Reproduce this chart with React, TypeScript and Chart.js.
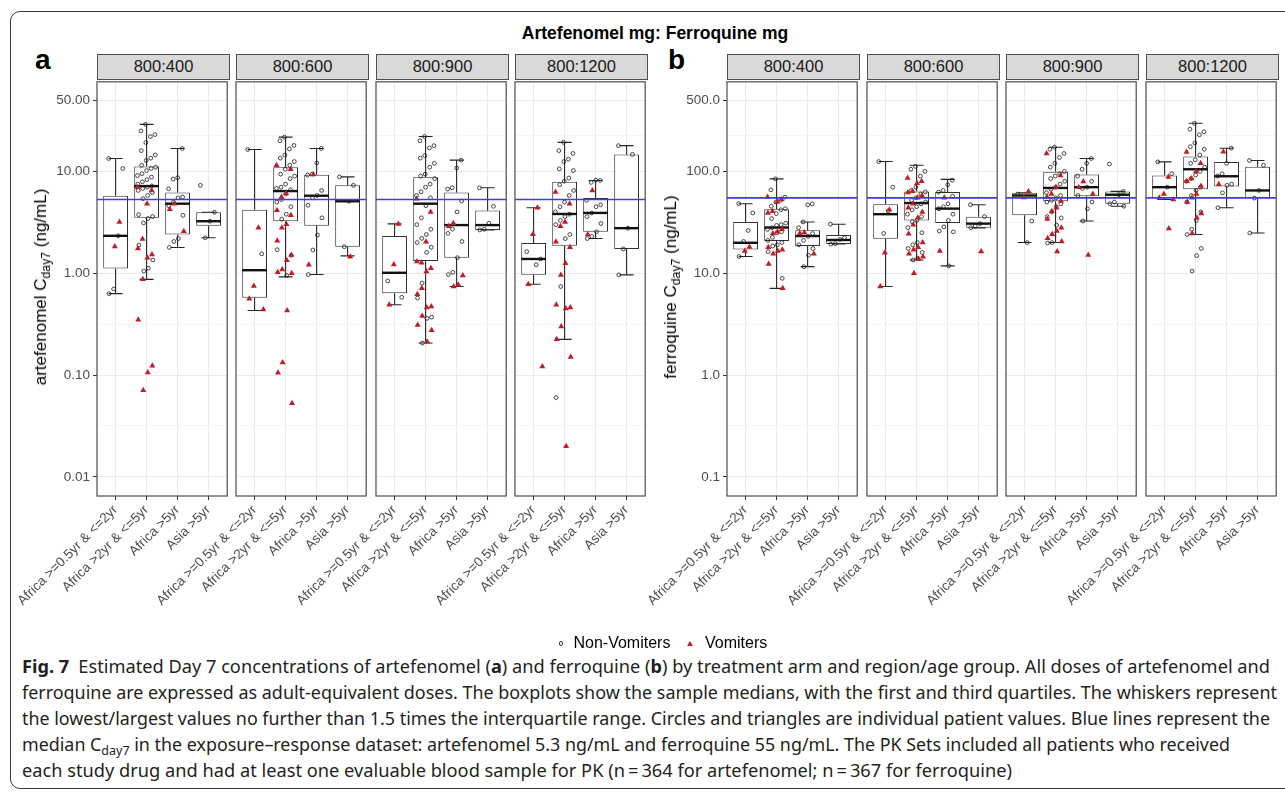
import React, { useEffect, useLayoutEffect, useRef } from "react";
import { Chart, registerables } from "chart.js";

Chart.register(...registerables);

// ---------------- data ----------------
const groups = ["Africa >=0.5yr & <=2yr", "Africa >2yr & <=5yr", "Africa >5yr", "Asia >5yr"];
const arms = ["800:400", "800:600", "800:900", "800:1200"];

const artRefLine = 5.3;
const ferRefLine = 55;

const artMajorTicks = [0.01, 0.1, 1, 10, 50];
const artMinorTicks = [0.0316, 0.316, 3.16, 22.4];
const artRange = [0.00648, 75.9];
const ferMajorTicks = [0.1, 1, 10, 100, 500];
const ferMinorTicks = [0.316, 3.16, 31.6, 224];
const ferRange = [0.0648, 759];

// box stats per group: [lower whisker, Q1, median, Q3, upper whisker]
const artBox400 = [[0.63, 1.11, 2.33, 5.77, 13.4], [0.87, 3.5, 7.17, 11.2, 29], [1.79, 2.4, 4.82, 6.2, 16.8], [2.23, 2.92, 3.24, 3.97, 3.97]];
const artNon400 = [
  [13.4, 10.7, 2.33, 0.7, 0.63],
  [29, 25, 23, 22, 19.2, 16, 14.5, 13.5, 12.8, 11.5, 11, 10.7, 10.2, 9.5, 9.1, 8.8, 8.3, 7.9, 7.5, 7.2, 7.0, 6.8, 6.5, 6.2, 5.8, 5.4, 3.76, 3.6, 3.44, 3.12, 1.89, 1.35, 1.12, 1.05],
  [16.8, 8.67, 8.4, 6.75, 5.6, 5.5, 5.0, 4.6, 3.7, 2.19, 2.05, 1.79],
  [7.3, 3.97, 3.24, 2.23],
];
const artVom400 = [[3.19, 1.83], [7.0, 6.5, 4.8, 2.17, 1.75, 1.53, 1.42, 0.87, 0.35, 0.123, 0.106, 0.071], [4.8, 4.24, 2.59], []];

const artBox600 = [[0.43, 0.575, 1.07, 4.21, 16.4], [0.92, 3.24, 6.41, 11.0, 21.7], [0.97, 2.92, 5.77, 9.25, 16.8], [1.48, 1.82, 5.09, 7.3, 8.84]];
const artNon600 = [
  [16.4, 1.55],
  [21.7, 20, 18, 16.6, 14.5, 13.5, 12.5, 11.5, 10.5, 9.4, 9.0, 8.5, 7.5, 7.0, 6.8, 6.6, 6.0, 5.3, 5.0, 4.5, 3.8, 3.4, 1.7, 1.5, 0.95],
  [16.8, 12.1, 9.4, 9.2, 6.5, 5.8, 5.5, 4.65, 3.5, 2.37, 1.69, 0.97],
  [8.84, 7.3, 5.09, 1.82],
];
const artVom600 = [[2.79, 0.75, 0.56, 0.44], [11.5, 10.5, 6.1, 5.6, 4.16, 3.7, 3.03, 2.8, 2.08, 1.51, 1.34, 1.09, 1.02, 1.0, 0.43, 0.133, 0.105, 0.0527], [9.3, 1.21], [1.45]];

const artBox900 = [[0.49, 0.634, 1.01, 2.32, 3.05], [0.206, 1.32, 4.82, 8.78, 22], [0.74, 1.42, 2.97, 6.2, 12.9], [2.66, 2.66, 2.97, 4.12, 6.9]];
const artNon900 = [
  [0.84, 0.58],
  [22, 20, 17.9, 17, 14.3, 13.5, 12, 11, 9.4, 9.0, 8.5, 7.5, 7.0, 6.3, 5.8, 5.5, 4.6, 3.5, 3.0, 2.7, 2.4, 2.2, 2.0, 1.8, 1.6, 0.8, 0.57, 0.37, 0.36, 0.206],
  [12.9, 10.8, 6.9, 6.7, 5.12, 4.0, 2.71, 2.46, 2.05, 1.42, 1.02, 0.97],
  [6.9, 4.54, 3.1, 2.7, 2.66],
];
const artVom900 = [[3.05, 1.22, 0.49], [5.4, 4.0, 2.04, 1.27, 1.3, 1.12, 1.04, 0.71, 0.62, 0.47, 0.46, 0.38, 0.31, 0.275, 0.212], [3.1, 2.9, 0.95, 0.77, 0.74], []];

const artBox1200 = [[0.78, 0.964, 1.38, 1.98, 4.4], [0.224, 1.86, 3.82, 7.9, 19.3], [2.19, 2.55, 3.91, 5.48, 8.15], [0.964, 1.73, 2.77, 14.7, 17.9]];
const artNon1200 = [
  [1.63, 1.38, 1.21],
  [19.3, 16, 15, 13.2, 12.5, 10.6, 10.2, 8.6, 8.0, 7.4, 6.5, 5.8, 5.0, 4.5, 4.0, 3.8, 3.6, 3.3, 3.0, 2.4, 2.19, 0.74, 0.06],
  [8.15, 8.2, 7.8, 5.2, 4.7, 4.5, 3.9, 3.6, 3.08, 2.55, 2.3, 2.19],
  [17.9, 14.7, 2.77, 1.73, 0.964],
];
const artVom1200 = [[4.4, 2.42, 0.78, 0.121], [6.27, 4.8, 3.19, 2.9, 2.04, 1.8, 1.25, 0.96, 0.49, 0.46, 0.45, 0.3, 0.224, 0.15, 0.02], [6.5, 2.4], []];

const ferBox400 = [[14.6, 17.1, 19.9, 31.9, 48.2], [7.1, 20.7, 28.1, 42.5, 84.5], [11.6, 18.5, 23.2, 26.5, 31.9], [19.4, 19.4, 21.2, 23.7, 30.3]];
const ferNon400 = [
  [48.2, 39, 26.3, 20.5, 14.6],
  [84.5, 65.9, 55.9, 52, 50, 45.5, 43, 42, 38.5, 34.4, 31, 30, 29.5, 28, 27, 25.5, 24.9, 22.5, 21, 20, 19, 18.5, 16.3, 8.9],
  [48, 47, 31.9, 28, 24.5, 23, 21, 19, 17.5, 15, 11.6],
  [30.3, 22.3, 21.5, 19.5, 19.3],
];
const ferVom400 = [[18.1, 16.5], [56, 53, 50, 40.6, 39, 27, 25.5, 24.5, 18, 17, 16.5, 15.5, 12.3, 7.1], [25.1, 24.5, 15.5], []];

const ferBox600 = [[7.4, 21.8, 38.0, 47.6, 125], [13.5, 32.9, 48.9, 63.6, 115], [11.8, 31.2, 43.1, 62.6, 83.6], [27.9, 27.9, 30.7, 35.8, 47.1]];
const ferNon600 = [
  [125, 70, 40.9, 24.6],
  [112, 105, 100, 90, 70, 65, 63, 60, 55, 52, 50, 48, 45, 42, 38, 36, 33, 32, 28, 25, 20, 19, 17.5, 16, 14, 13.5],
  [82, 74, 65, 62.6, 57, 48, 45, 43, 38, 33, 28.5, 26, 25.5, 11.8],
  [47.1, 36, 30.7, 29, 28],
];
const ferVom600 = [[42.1, 15.9, 7.4], [86, 80, 76.5, 64, 62, 58, 55, 48, 44, 40, 35, 30, 24.4, 20, 18, 17, 15.5, 14.5, 13.8, 10], [55.2, 16.5], [16.3]];

const ferBox900 = [[20.0, 37.1, 58, 61.8, 61.8], [20.0, 50.9, 68.8, 99.1, 173], [32.6, 56.9, 70, 93.1, 134], [45.5, 48.2, 59, 63.6, 63.6]];
const ferNon900 = [
  [60, 32.6, 20],
  [173, 165, 150, 137, 120, 110, 100, 95, 90, 85, 80, 75, 70, 67, 62, 58, 55, 52, 50, 48, 45, 40, 36, 34.9, 29.6, 20, 19.8],
  [134, 120, 105, 90, 80, 70, 68, 58, 50.1, 43, 32.6],
  [118, 63.6, 59, 50, 48.2, 45.5],
];
const ferVom900 = [[63.6, 55.5], [150, 91, 70, 60, 56, 51.3, 44, 40.6, 34, 27.9, 26, 24.2, 22, 20.5, 16.3], [79.8, 70, 60, 15.1], []];

const ferBox1200 = [[53, 54.7, 70, 91, 124], [24.0, 66.8, 105, 140, 297], [44, 71, 89.6, 124, 169], [24.8, 54.7, 65, 111, 128]];
const ferNon1200 = [
  [124, 95, 70],
  [297, 260, 245, 229, 190, 175, 165, 145, 130, 120, 110, 100, 92, 85, 80, 70, 65, 58, 50, 40, 33, 27, 24, 17.5, 14.9, 10.5],
  [169, 120, 95, 90, 75, 73, 61.6, 44],
  [128, 115, 65, 54.7, 24.8],
];
const ferVom1200 = [[88, 60, 55, 53, 27.5], [155, 120, 100, 85, 80, 72, 60, 55, 50.1, 38.5, 35, 24.6], [156, 75], []];

// ---------------- layout ----------------
const FONT = "'Liberation Sans', Arial, Helvetica, sans-serif";
const PLOT_TOP = 79;
const PLOT_H = 417;
const PLOT_W = 133;
const X_AXIS_H = 118;
const EXTRA = 105;
const Y_AXIS_W = 46;
const PAD = 2;
const panelALefts = [97, 236, 376, 515];
const panelBLefts = [727, 867, 1006, 1146];
const CAPTION_LEFT = 22;
const captionEnds = [1270, 1277, 1270, 1230, 1012];

const jitter = (i: number, g: number) => {
  const f = (i * 0.754877666 + g * 0.31 + 0.13) % 1;
  return (f - 0.5) * 0.6;
};

type AxisSpec = { majors: number[]; minors: number[]; range: number[]; decimals: number };
const artAxis: AxisSpec = { majors: artMajorTicks, minors: artMinorTicks, range: artRange, decimals: 2 };
const ferAxis: AxisSpec = { majors: ferMajorTicks, minors: ferMinorTicks, range: ferRange, decimals: 1 };

function makeBoxPlugin(boxes: number[][]) {
  return {
    id: "boxWhiskers",
    beforeDatasetsDraw(chart: any) {
      const { ctx } = chart;
      const x = chart.scales.x;
      const y = chart.scales.y;
      ctx.save();
      ctx.strokeStyle = "#262626";
      ctx.lineWidth = 1.1;
      boxes.forEach((b, i) => {
        const cx = x.getPixelForValue(i);
        const half = (x.getPixelForValue(i + 0.45) - x.getPixelForValue(i)) / 2;
        const yLo = y.getPixelForValue(b[0]);
        const yQ1 = y.getPixelForValue(b[1]);
        const yQ3 = y.getPixelForValue(b[3]);
        const yHi = y.getPixelForValue(b[4]);
        ctx.beginPath();
        ctx.moveTo(cx, yLo);
        ctx.lineTo(cx, yQ1);
        ctx.moveTo(cx, yQ3);
        ctx.lineTo(cx, yHi);
        ctx.moveTo(cx - half, yLo);
        ctx.lineTo(cx + half, yLo);
        ctx.moveTo(cx - half, yHi);
        ctx.lineTo(cx + half, yHi);
        ctx.stroke();
      });
      ctx.restore();
    },
    afterDatasetDraw(chart: any, args: any) {
      if (args.index !== 0) return;
      const { ctx } = chart;
      const x = chart.scales.x;
      const y = chart.scales.y;
      const meta = chart.getDatasetMeta(0);
      ctx.save();
      ctx.strokeStyle = "#111111";
      ctx.lineWidth = 2.4;
      boxes.forEach((b, i) => {
        const el = meta.data[i];
        const half = el ? el.width / 2 : 12;
        const cx = x.getPixelForValue(i);
        const ym = y.getPixelForValue(b[2]);
        ctx.beginPath();
        ctx.moveTo(cx - half, ym);
        ctx.lineTo(cx + half, ym);
        ctx.stroke();
      });
      ctx.restore();
    },
    afterDraw(chart: any) {
      const { ctx, chartArea } = chart;
      ctx.save();
      ctx.strokeStyle = "#4D4D4D";
      ctx.lineWidth = 1.2;
      ctx.strokeRect(chartArea.left, chartArea.top, chartArea.right - chartArea.left, chartArea.bottom - chartArea.top);
      ctx.restore();
    },
  };
}

type FacetProps = {
  plotLeft: number;
  boxes: number[][];
  non: number[][];
  vom: number[][];
  axis: AxisSpec;
  showY: boolean;
  refValue: number;
};

function Facet({ plotLeft, boxes, non, vom, axis, showY, refValue }: FacetProps) {
  const ref = useRef<HTMLCanvasElement>(null);
  const yW = showY ? Y_AXIS_W : 0;
  const cw = EXTRA + yW + PLOT_W + PAD;
  const ch = PAD + PLOT_H + X_AXIS_H;

  useEffect(() => {
    if (!ref.current) return;
    const isMajor = (v: number) => axis.majors.some((m) => Math.abs(m - v) / m < 1e-6);
    const allTicks = [...axis.majors, ...axis.minors].sort((a, b) => a - b);
    const nonPts: any[] = [];
    non.forEach((vals, g) => vals.forEach((v, i) => nonPts.push({ x: g + jitter(i, g), y: v })));
    const vomPts: any[] = [];
    vom.forEach((vals, g) => vals.forEach((v, i) => vomPts.push({ x: g + jitter(i + 3, g + 1), y: v })));

    const chart = new Chart(ref.current, {
      type: "bar",
      data: {
        datasets: [
          {
            type: "bar",
            data: boxes.map((b, i) => ({ x: i, y: [b[1], b[3]] })) as any,
            backgroundColor: "#FFFFFF",
            borderColor: "#333333",
            borderWidth: 1,
            borderSkipped: false,
            barPercentage: 0.8,
            categoryPercentage: 1,
            order: 5,
          } as any,
          {
            type: "scatter",
            data: nonPts,
            pointStyle: "circle",
            pointRadius: 1.9,
            pointBorderWidth: 0.8,
            pointBorderColor: "#1A1A1A",
            pointBackgroundColor: "rgba(0,0,0,0)",
            showLine: false,
            order: 3,
          } as any,
          {
            type: "scatter",
            data: vomPts,
            pointStyle: "triangle",
            pointRadius: 3.5,
            pointBorderWidth: 0,
            pointBackgroundColor: "#BE1E24",
            pointBorderColor: "#BE1E24",
            showLine: false,
            order: 2,
          } as any,
          {
            type: "line",
            data: [
              { x: -0.6, y: refValue },
              { x: 3.6, y: refValue },
            ],
            borderColor: "#3A3AFF",
            borderWidth: 1.6,
            pointRadius: 0,
            fill: false,
            order: 1,
          } as any,
        ],
      },
      options: {
        responsive: false,
        animation: false,
        devicePixelRatio: 1,
        events: [],
        layout: { padding: { left: EXTRA, right: PAD, top: PAD, bottom: 0 } },
        plugins: { legend: { display: false }, tooltip: { enabled: false } },
        scales: {
          x: {
            type: "linear",
            min: -0.6,
            max: 3.6,
            offset: false,
            afterBuildTicks: (s: any) => {
              s.ticks = [0, 1, 2, 3].map((v) => ({ value: v }));
            },
            afterFit: (s: any) => {
              s.height = X_AXIS_H;
              s.paddingLeft = 0;
              s.paddingRight = 0;
            },
            grid: { offset: false, color: "#EBEBEB", lineWidth: 1, drawTicks: true, tickLength: 4, tickColor: "#333333", tickWidth: 1 },
            border: { display: false },
            ticks: {
              autoSkip: false,
              minRotation: 45,
              maxRotation: 45,
              padding: 2,
              color: "#4D4D4D",
              font: { family: FONT, size: 13.5 },
              callback: (v: any) => groups[Math.round(Number(v))] ?? "",
            },
          },
          y: {
            type: "logarithmic",
            min: axis.range[0],
            max: axis.range[1],
            afterBuildTicks: (s: any) => {
              s.ticks = allTicks.map((v) => ({ value: v }));
            },
            afterFit: (s: any) => {
              s.width = yW;
              s.paddingTop = 0;
              s.paddingBottom = 0;
            },
            grid: {
              color: (c: any) => (c.tick && !isMajor(c.tick.value) ? "#F2F2F2" : "#EBEBEB"),
              lineWidth: (c: any) => (c.tick && !isMajor(c.tick.value) ? 0.8 : 1),
              drawTicks: showY,
              tickLength: 4,
              tickWidth: 1,
              tickColor: (c: any) => (c.tick && isMajor(c.tick.value) ? "#333333" : "rgba(0,0,0,0)"),
            },
            border: { display: false },
            ticks: {
              display: showY,
              autoSkip: false,
              padding: 3,
              color: "#4D4D4D",
              font: { family: FONT, size: 13.5 },
              callback: (v: any) => (isMajor(Number(v)) ? Number(v).toFixed(axis.decimals) : ""),
            },
          },
        },
      } as any,
      plugins: [makeBoxPlugin(boxes) as any],
    });
    return () => chart.destroy();
  }, []);

  return (
    <canvas
      ref={ref}
      width={cw}
      height={ch}
      style={{
        position: "absolute",
        left: plotLeft - yW - EXTRA,
        top: PLOT_TOP - PAD,
        width: cw,
        height: ch,
      }}
    />
  );
}

function Strip({ left, label }: { left: number; label: string }) {
  return (
    <div
      style={{
        position: "absolute",
        left,
        top: 54,
        width: PLOT_W,
        height: 26,
        boxSizing: "border-box",
        background: "#D9D9D9",
        border: "1px solid #4D4D4D",
        textAlign: "center",
        lineHeight: "23px",
        fontFamily: FONT,
        fontSize: 16.5,
        color: "#1A1A1A",
      }}
    >
      {label}
    </div>
  );
}

function YTitle({ cx, drug }: { cx: number; drug: string }) {
  return (
    <div
      style={{
        position: "absolute",
        left: cx,
        top: 287,
        transform: "translate(-50%, -50%) rotate(-90deg)",
        whiteSpace: "nowrap",
        fontFamily: FONT,
        fontSize: 17,
        lineHeight: "20px",
        color: "#000",
      }}
    >
      {drug} C<sub style={{ fontSize: "0.72em", verticalAlign: "-0.3em", lineHeight: 0 }}>day7</sub> (ng/mL)
    </div>
  );
}

const captionLines: React.ReactNode[] = [
  <>
    <b>Fig. 7</b>
    {"\u2002"}Estimated Day 7 concentrations of artefenomel (<b>a</b>) and ferroquine (<b>b</b>) by treatment arm and region/age group. All doses of artefenomel and
  </>,
  <>ferroquine are expressed as adult-equivalent doses. The boxplots show the sample medians, with the first and third quartiles. The whiskers represent</>,
  <>the lowest/largest values no further than 1.5 times the interquartile range. Circles and triangles are individual patient values. Blue lines represent the</>,
  <>
    median C<sub style={{ fontSize: "0.7em", verticalAlign: "-0.3em", lineHeight: 0 }}>day7</sub> in the exposure–response dataset: artefenomel 5.3 ng/mL and ferroquine 55 ng/mL. The PK Sets included all patients who received
  </>,
  <>each study drug and had at least one evaluable blood sample for PK (n{"\u2009"}={"\u2009"}364 for artefenomel; n{"\u2009"}={"\u2009"}367 for ferroquine)</>,
];

export default function App() {
  const lineRefs = useRef<(HTMLSpanElement | null)[]>([]);
  useLayoutEffect(() => {
    lineRefs.current.forEach((el, i) => {
      if (!el) return;
      el.style.transform = "none";
      const w = el.getBoundingClientRect().width;
      const target = captionEnds[i] - CAPTION_LEFT;
      if (w > 0) el.style.transform = `scaleX(${target / w})`;
    });
  }, []);

  const artBoxes = [artBox400, artBox600, artBox900, artBox1200];
  const artNons = [artNon400, artNon600, artNon900, artNon1200];
  const artVoms = [artVom400, artVom600, artVom900, artVom1200];
  const ferBoxes = [ferBox400, ferBox600, ferBox900, ferBox1200];
  const ferNons = [ferNon400, ferNon600, ferNon900, ferNon1200];
  const ferVoms = [ferVom400, ferVom600, ferVom900, ferVom1200];

  return (
    <div style={{ position: "absolute", left: 0, top: 0, width: 1285, height: 795, overflow: "hidden", background: "#fff" }}>
      <div
        style={{
          position: "absolute",
          left: 10,
          top: 11,
          width: 1320,
          height: 778,
          border: "1px solid #3A3A3A",
          borderRadius: 10,
          boxSizing: "border-box",
        }}
      />
      <div
        style={{
          position: "absolute",
          left: 655,
          top: 25,
          transform: "translateX(-50%)",
          whiteSpace: "nowrap",
          fontFamily: FONT,
          fontWeight: 700,
          fontSize: 17.5,
          lineHeight: 1,
          color: "#000",
        }}
      >
        Artefenomel mg: Ferroquine mg
      </div>
      <div style={{ position: "absolute", left: 35, top: 46, fontFamily: FONT, fontWeight: 700, fontSize: 28, lineHeight: 1, color: "#000" }}>a</div>
      <div style={{ position: "absolute", left: 668, top: 46, fontFamily: FONT, fontWeight: 700, fontSize: 28, lineHeight: 1, color: "#000" }}>b</div>

      {arms.map((arm, k) => (
        <Strip key={"sa" + k} left={panelALefts[k]} label={arm} />
      ))}
      {arms.map((arm, k) => (
        <Strip key={"sb" + k} left={panelBLefts[k]} label={arm} />
      ))}

      {arms.map((arm, k) => (
        <Facet
          key={"fa" + k}
          plotLeft={panelALefts[k]}
          boxes={artBoxes[k]}
          non={artNons[k]}
          vom={artVoms[k]}
          axis={artAxis}
          showY={k === 0}
          refValue={artRefLine}
        />
      ))}
      {arms.map((arm, k) => (
        <Facet
          key={"fb" + k}
          plotLeft={panelBLefts[k]}
          boxes={ferBoxes[k]}
          non={ferNons[k]}
          vom={ferVoms[k]}
          axis={ferAxis}
          showY={k === 0}
          refValue={ferRefLine}
        />
      ))}

      <YTitle cx={41} drug="artefenomel" />
      <YTitle cx={671} drug="ferroquine" />

      {/* legend */}
      <div
        style={{
          position: "absolute",
          left: 558.5,
          top: 641.3,
          width: 4.5,
          height: 4.5,
          boxSizing: "border-box",
          border: "1px solid #333",
          borderRadius: "50%",
        }}
      />
      <div style={{ position: "absolute", left: 573.5, top: 635, fontFamily: FONT, fontSize: 16, lineHeight: 1, color: "#000", whiteSpace: "nowrap" }}>
        Non-Vomiters
      </div>
      <div
        style={{
          position: "absolute",
          left: 687,
          top: 640.5,
          width: 0,
          height: 0,
          borderLeft: "3px solid transparent",
          borderRight: "3px solid transparent",
          borderBottom: "5px solid #BE1E24",
        }}
      />
      <div style={{ position: "absolute", left: 705, top: 635, fontFamily: FONT, fontSize: 16, lineHeight: 1, color: "#000", whiteSpace: "nowrap" }}>
        Vomiters
      </div>

      {/* caption */}
      <div style={{ position: "absolute", left: CAPTION_LEFT, top: 653, fontFamily: "'Noto Sans', 'Open Sans', sans-serif", fontSize: 17.5, lineHeight: "26px", color: "#231F20" }}>
        {captionLines.map((ln, i) => (
          <div key={i} style={{ height: 26, whiteSpace: "nowrap" }}>
            <span
              ref={(el) => {
                lineRefs.current[i] = el;
              }}
              style={{ display: "inline-block", transformOrigin: "0 0", whiteSpace: "nowrap" }}
            >
              {ln}
            </span>
          </div>
        ))}
      </div>
    </div>
  );
}
